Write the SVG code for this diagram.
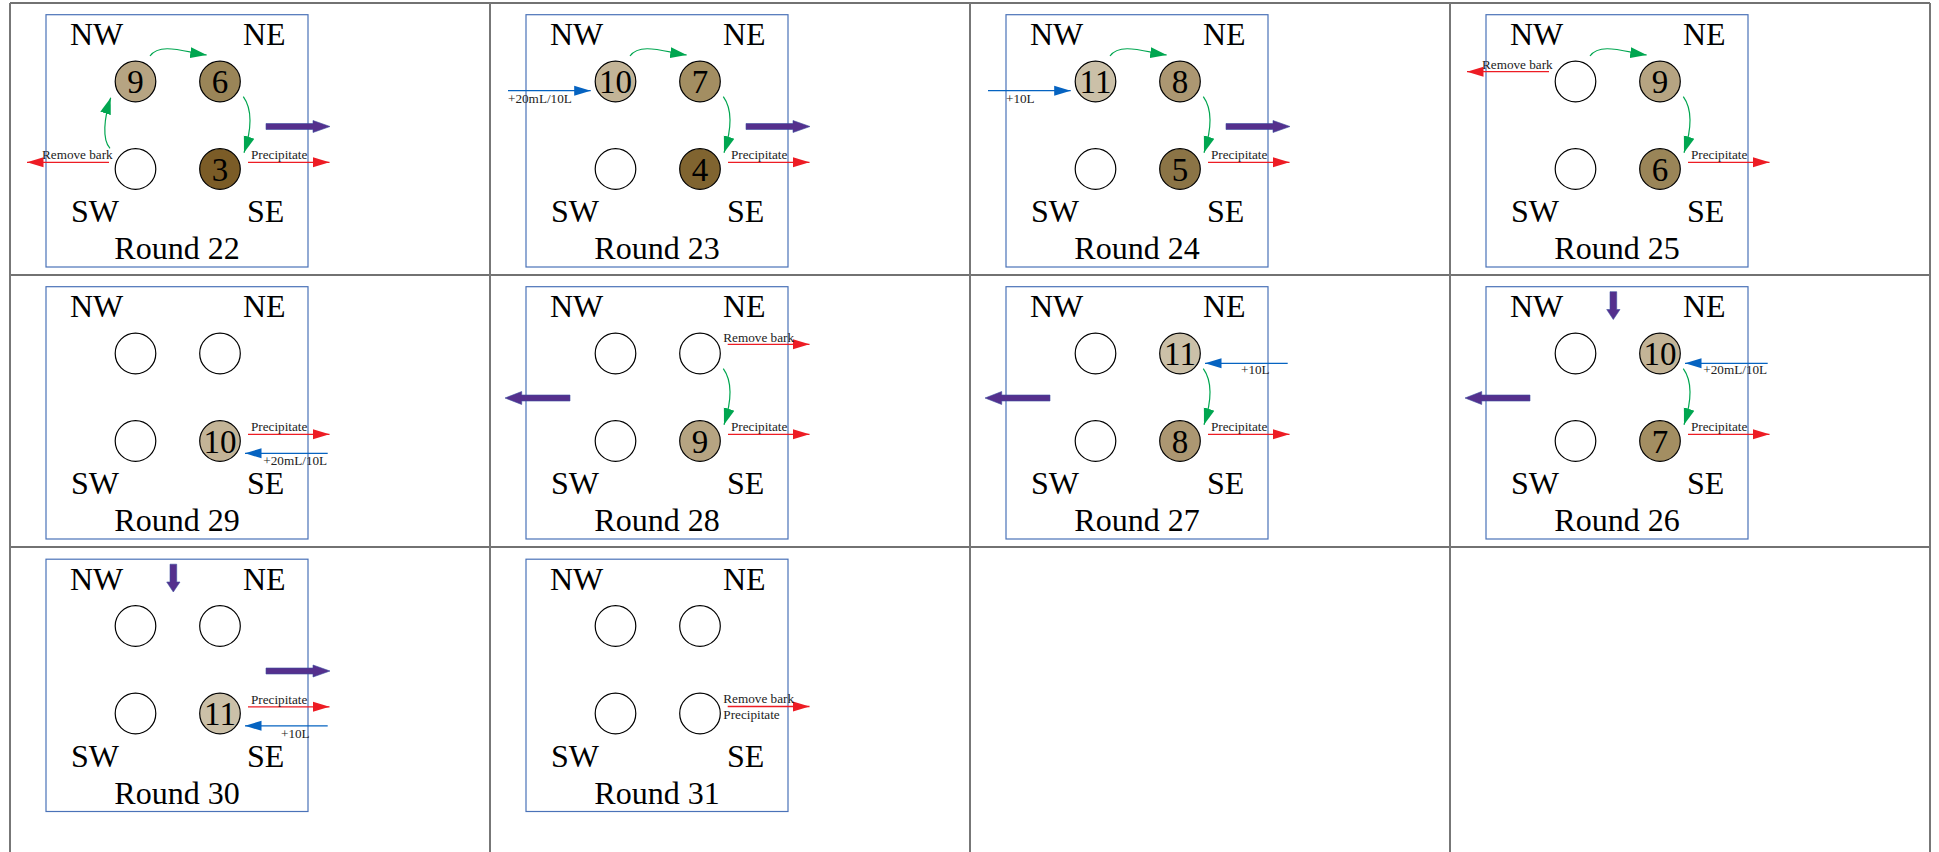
<svg xmlns="http://www.w3.org/2000/svg" width="1939" height="852" viewBox="0 0 1939 852">
<style>
.grid{fill:none;stroke:#444;stroke-width:1.3}
.gridv{fill:none;stroke:#777;stroke-width:2}
.frame{fill:none;stroke:#4a72b8;stroke-width:1.2}
.dir{font-family:"Liberation Serif",serif;font-size:32px;fill:#000}
.title{font-family:"Liberation Serif",serif;font-size:32px;fill:#000;text-anchor:middle}
.well{fill:#fff;stroke:#000;stroke-width:1.2}
.num{font-family:"Liberation Serif",serif;font-size:33px;fill:#000;text-anchor:middle}
.lbl{font-family:"Liberation Serif",serif;font-size:13.2px;fill:#222}
.g{fill:none;stroke:#00a650;stroke-width:1.2;marker-end:url(#mg)}
.r{fill:none;stroke:#ed1c24;stroke-width:1.3;marker-end:url(#mr)}
.b{fill:none;stroke:#0563c1;stroke-width:1.2;marker-end:url(#mb)}
.p{fill:#55308d;stroke:#3c4fa0;stroke-width:0.6}
.c3{fill:#7b5c27}.c4{fill:#806430}.c5{fill:#8b7446}.c6{fill:#9a8558}.c7{fill:#a38e62}
.c8{fill:#ac9772}.c9{fill:#b6a482}.c10{fill:#c3b497}.c11{fill:#cbc0a8}
</style>
<defs>
<marker id="mr" markerUnits="userSpaceOnUse" viewBox="0 0 17 11" markerWidth="17" markerHeight="11" refX="16.5" refY="5.5" orient="auto"><path d="M0,0.5 L16.5,5.5 L0,10.5z" fill="#ed1c24"/></marker>
<marker id="mb" markerUnits="userSpaceOnUse" viewBox="0 0 17 11" markerWidth="17" markerHeight="11" refX="16.5" refY="5.5" orient="auto"><path d="M0,0.5 L16.5,5.5 L0,10.5z" fill="#0563c1"/></marker>
<marker id="mg" markerUnits="userSpaceOnUse" viewBox="0 0 17 12" markerWidth="17" markerHeight="12" refX="16.5" refY="6" orient="auto"><path d="M0,0.5 L16.5,6 L0,11.5z" fill="#00a650"/></marker>
</defs>

<g id="table">
<path class="grid" d="M10,3 H1930 M10,275 H1930 M10,547 H1930"/>
<path class="gridv" d="M10,3 V852 M490,3 V852 M970,3 V852 M1450,3 V852 M1930,3 V852"/>
</g>

<!-- Round 22 -->
<g id="round22" transform="translate(0,0)">
<rect class="frame" x="46" y="14.7" width="262" height="252.3"/>
<text class="dir" x="70" y="45">NW</text><text class="dir" x="243" y="45">NE</text>
<text class="dir" x="71" y="222">SW</text><text class="dir" x="247" y="222">SE</text>
<text class="title" x="177" y="259">Round 22</text>
<g id="r22-nw"><circle class="well c9" cx="135.5" cy="81.5" r="20.3"/><text class="num" x="135.5" y="93">9</text></g>
<g id="r22-ne"><circle class="well c6" cx="220" cy="81.5" r="20.3"/><text class="num" x="220" y="93">6</text></g>
<g id="r22-sw"><circle class="well" cx="135.5" cy="169" r="20.3"/></g>
<g id="r22-se"><circle class="well c3" cx="220" cy="169" r="20.3"/><text class="num" x="220" y="180.5">3</text></g>
</g>

<!-- Round 23 -->
<g id="round23" transform="translate(480,0)">
<rect class="frame" x="46" y="14.7" width="262" height="252.3"/>
<text class="dir" x="70" y="45">NW</text><text class="dir" x="243" y="45">NE</text>
<text class="dir" x="71" y="222">SW</text><text class="dir" x="247" y="222">SE</text>
<text class="title" x="177" y="259">Round 23</text>
<g id="r23-nw"><circle class="well c10" cx="135.5" cy="81.5" r="20.3"/><text class="num" x="135.5" y="93">10</text></g>
<g id="r23-ne"><circle class="well c7" cx="220" cy="81.5" r="20.3"/><text class="num" x="220" y="93">7</text></g>
<g id="r23-sw"><circle class="well" cx="135.5" cy="169" r="20.3"/></g>
<g id="r23-se"><circle class="well c4" cx="220" cy="169" r="20.3"/><text class="num" x="220" y="180.5">4</text></g>
</g>

<!-- Round 24 -->
<g id="round24" transform="translate(960,0)">
<rect class="frame" x="46" y="14.7" width="262" height="252.3"/>
<text class="dir" x="70" y="45">NW</text><text class="dir" x="243" y="45">NE</text>
<text class="dir" x="71" y="222">SW</text><text class="dir" x="247" y="222">SE</text>
<text class="title" x="177" y="259">Round 24</text>
<g id="r24-nw"><circle class="well c11" cx="135.5" cy="81.5" r="20.3"/><text class="num" x="135.5" y="93">11</text></g>
<g id="r24-ne"><circle class="well c8" cx="220" cy="81.5" r="20.3"/><text class="num" x="220" y="93">8</text></g>
<g id="r24-sw"><circle class="well" cx="135.5" cy="169" r="20.3"/></g>
<g id="r24-se"><circle class="well c5" cx="220" cy="169" r="20.3"/><text class="num" x="220" y="180.5">5</text></g>
</g>

<!-- Round 25 -->
<g id="round25" transform="translate(1440,0)">
<rect class="frame" x="46" y="14.7" width="262" height="252.3"/>
<text class="dir" x="70" y="45">NW</text><text class="dir" x="243" y="45">NE</text>
<text class="dir" x="71" y="222">SW</text><text class="dir" x="247" y="222">SE</text>
<text class="title" x="177" y="259">Round 25</text>
<g id="r25-nw"><circle class="well" cx="135.5" cy="81.5" r="20.3"/></g>
<g id="r25-ne"><circle class="well c9" cx="220" cy="81.5" r="20.3"/><text class="num" x="220" y="93">9</text></g>
<g id="r25-sw"><circle class="well" cx="135.5" cy="169" r="20.3"/></g>
<g id="r25-se"><circle class="well c6" cx="220" cy="169" r="20.3"/><text class="num" x="220" y="180.5">6</text></g>
</g>

<!-- Round 29 -->
<g id="round29" transform="translate(0,272)">
<rect class="frame" x="46" y="14.7" width="262" height="252.3"/>
<text class="dir" x="70" y="45">NW</text><text class="dir" x="243" y="45">NE</text>
<text class="dir" x="71" y="222">SW</text><text class="dir" x="247" y="222">SE</text>
<text class="title" x="177" y="259">Round 29</text>
<g id="r29-nw"><circle class="well" cx="135.5" cy="81.5" r="20.3"/></g>
<g id="r29-ne"><circle class="well" cx="220" cy="81.5" r="20.3"/></g>
<g id="r29-sw"><circle class="well" cx="135.5" cy="169" r="20.3"/></g>
<g id="r29-se"><circle class="well c10" cx="220" cy="169" r="20.3"/><text class="num" x="220" y="180.5">10</text></g>
</g>

<!-- Round 28 -->
<g id="round28" transform="translate(480,272)">
<rect class="frame" x="46" y="14.7" width="262" height="252.3"/>
<text class="dir" x="70" y="45">NW</text><text class="dir" x="243" y="45">NE</text>
<text class="dir" x="71" y="222">SW</text><text class="dir" x="247" y="222">SE</text>
<text class="title" x="177" y="259">Round 28</text>
<g id="r28-nw"><circle class="well" cx="135.5" cy="81.5" r="20.3"/></g>
<g id="r28-ne"><circle class="well" cx="220" cy="81.5" r="20.3"/></g>
<g id="r28-sw"><circle class="well" cx="135.5" cy="169" r="20.3"/></g>
<g id="r28-se"><circle class="well c9" cx="220" cy="169" r="20.3"/><text class="num" x="220" y="180.5">9</text></g>
</g>

<!-- Round 27 -->
<g id="round27" transform="translate(960,272)">
<rect class="frame" x="46" y="14.7" width="262" height="252.3"/>
<text class="dir" x="70" y="45">NW</text><text class="dir" x="243" y="45">NE</text>
<text class="dir" x="71" y="222">SW</text><text class="dir" x="247" y="222">SE</text>
<text class="title" x="177" y="259">Round 27</text>
<g id="r27-nw"><circle class="well" cx="135.5" cy="81.5" r="20.3"/></g>
<g id="r27-ne"><circle class="well c11" cx="220" cy="81.5" r="20.3"/><text class="num" x="220" y="93">11</text></g>
<g id="r27-sw"><circle class="well" cx="135.5" cy="169" r="20.3"/></g>
<g id="r27-se"><circle class="well c8" cx="220" cy="169" r="20.3"/><text class="num" x="220" y="180.5">8</text></g>
</g>

<!-- Round 26 -->
<g id="round26" transform="translate(1440,272)">
<rect class="frame" x="46" y="14.7" width="262" height="252.3"/>
<text class="dir" x="70" y="45">NW</text><text class="dir" x="243" y="45">NE</text>
<text class="dir" x="71" y="222">SW</text><text class="dir" x="247" y="222">SE</text>
<text class="title" x="177" y="259">Round 26</text>
<g id="r26-nw"><circle class="well" cx="135.5" cy="81.5" r="20.3"/></g>
<g id="r26-ne"><circle class="well c10" cx="220" cy="81.5" r="20.3"/><text class="num" x="220" y="93">10</text></g>
<g id="r26-sw"><circle class="well" cx="135.5" cy="169" r="20.3"/></g>
<g id="r26-se"><circle class="well c7" cx="220" cy="169" r="20.3"/><text class="num" x="220" y="180.5">7</text></g>
</g>

<!-- Round 30 -->
<g id="round30" transform="translate(0,544.5)">
<rect class="frame" x="46" y="14.7" width="262" height="252.3"/>
<text class="dir" x="70" y="45">NW</text><text class="dir" x="243" y="45">NE</text>
<text class="dir" x="71" y="222">SW</text><text class="dir" x="247" y="222">SE</text>
<text class="title" x="177" y="259">Round 30</text>
<g id="r30-nw"><circle class="well" cx="135.5" cy="81.5" r="20.3"/></g>
<g id="r30-ne"><circle class="well" cx="220" cy="81.5" r="20.3"/></g>
<g id="r30-sw"><circle class="well" cx="135.5" cy="169" r="20.3"/></g>
<g id="r30-se"><circle class="well c11" cx="220" cy="169" r="20.3"/><text class="num" x="220" y="180.5">11</text></g>
</g>

<!-- Round 31 -->
<g id="round31" transform="translate(480,544.5)">
<rect class="frame" x="46" y="14.7" width="262" height="252.3"/>
<text class="dir" x="70" y="45">NW</text><text class="dir" x="243" y="45">NE</text>
<text class="dir" x="71" y="222">SW</text><text class="dir" x="247" y="222">SE</text>
<text class="title" x="177" y="259">Round 31</text>
<g id="r31-nw"><circle class="well" cx="135.5" cy="81.5" r="20.3"/></g>
<g id="r31-ne"><circle class="well" cx="220" cy="81.5" r="20.3"/></g>
<g id="r31-sw"><circle class="well" cx="135.5" cy="169" r="20.3"/></g>
<g id="r31-se"><circle class="well" cx="220" cy="169" r="20.3"/></g>
</g>

<g id="connectors">
<g transform="translate(0,0)">
<path class="g" d="M150,56 C160,42 185,52 206.7,55"/>
<path class="g" d="M243.3,96.7 C250,106 254,122 244,152.7"/>
<path class="g" d="M110,148.3 C102,140 104,118 110.7,97.7"/>
<path class="r" d="M109,162.3 H27"/><text class="lbl" x="42" y="159.3">Remove bark</text>
<path class="r" d="M248,162.3 H329.5"/><text class="lbl" x="251" y="159.3">Precipitate</text>
<polygon class="p" points="266,123.5 313,123.5 313,120.5 330,126.5 313,132.5 313,129.5 266,129.5"/>
</g>
<g transform="translate(480,0)">
<path class="g" d="M150,56 C160,42 185,52 206.7,55"/>
<path class="g" d="M243.3,96.7 C250,106 254,122 244,152.7"/>
<path class="b" d="M28,90.7 H110.7"/><text class="lbl" x="28" y="102.7">+20mL/10L</text>
<path class="r" d="M248,162.3 H329.5"/><text class="lbl" x="251" y="159.3">Precipitate</text>
<polygon class="p" points="266,123.5 313,123.5 313,120.5 330,126.5 313,132.5 313,129.5 266,129.5"/>
</g>
<g transform="translate(960,0)">
<path class="g" d="M150,56 C160,42 185,52 206.7,55"/>
<path class="g" d="M243.3,96.7 C250,106 254,122 244,152.7"/>
<path class="b" d="M28,90.7 H110.7"/><text class="lbl" x="46" y="102.7">+10L</text>
<path class="r" d="M248,162.3 H329.5"/><text class="lbl" x="251" y="159.3">Precipitate</text>
<polygon class="p" points="266,123.5 313,123.5 313,120.5 330,126.5 313,132.5 313,129.5 266,129.5"/>
</g>
<g transform="translate(1440,0)">
<path class="g" d="M150,56 C160,42 185,52 206.7,55"/>
<path class="g" d="M243.3,96.7 C250,106 254,122 244,152.7"/>
<path class="r" d="M109,71.7 H27"/><text class="lbl" x="42" y="68.5">Remove bark</text>
<path class="r" d="M248,162.3 H329.5"/><text class="lbl" x="251" y="159.3">Precipitate</text>
</g>
<g transform="translate(0,272)">
<path class="r" d="M248,162.3 H329.5"/><text class="lbl" x="251" y="159.3">Precipitate</text>
<path class="b" d="M327.7,181.3 H245"/><text class="lbl" x="263.3" y="193">+20mL/10L</text>
</g>
<g transform="translate(480,272)">
<path class="g" d="M243.3,96.7 C250,106 254,122 244,152.7"/>
<path class="r" d="M247.7,72.3 H329.5"/><text class="lbl" x="243.3" y="69.7">Remove bark</text>
<path class="r" d="M248,162.3 H329.5"/><text class="lbl" x="251" y="159.3">Precipitate</text>
<polygon class="p" points="90,123 41.7,123 41.7,119.5 25,126 41.7,132.5 41.7,129 90,129"/>
</g>
<g transform="translate(960,272)">
<path class="g" d="M243.3,96.7 C250,106 254,122 244,152.7"/>
<path class="b" d="M327.7,91.3 H245"/><text class="lbl" x="281" y="102">+10L</text>
<path class="r" d="M248,162.3 H329.5"/><text class="lbl" x="251" y="159.3">Precipitate</text>
<polygon class="p" points="90,123 41.7,123 41.7,119.5 25,126 41.7,132.5 41.7,129 90,129"/>
</g>
<g transform="translate(1440,272)">
<path class="g" d="M243.3,96.7 C250,106 254,122 244,152.7"/>
<path class="b" d="M327.7,91.3 H245"/><text class="lbl" x="263.3" y="102">+20mL/10L</text>
<path class="r" d="M248,162.3 H329.5"/><text class="lbl" x="251" y="159.3">Precipitate</text>
<polygon class="p" points="90,123 41.7,123 41.7,119.5 25,126 41.7,132.5 41.7,129 90,129"/>
<polygon class="p" points="170,19.7 176.7,19.7 176.7,37.5 180,37.5 173.3,47.5 166.7,37.5 170,37.5"/>
</g>
<g transform="translate(0,544.5)">
<polygon class="p" points="170,19.7 176.7,19.7 176.7,37.5 180,37.5 173.3,47.5 166.7,37.5 170,37.5"/>
<polygon class="p" points="266,123.5 313,123.5 313,120.5 330,126.5 313,132.5 313,129.5 266,129.5"/>
<path class="r" d="M248,162.3 H329.5"/><text class="lbl" x="251" y="159.3">Precipitate</text>
<path class="b" d="M327.7,181.3 H245"/><text class="lbl" x="281" y="193.5">+10L</text>
</g>
<g transform="translate(480,544.5)">
<path class="r" d="M247.7,162 H329.5"/>
<text class="lbl" x="243.3" y="158.7">Remove bark</text>
<text class="lbl" x="243.3" y="174.7">Precipitate</text>
</g>
</g>
</svg>
